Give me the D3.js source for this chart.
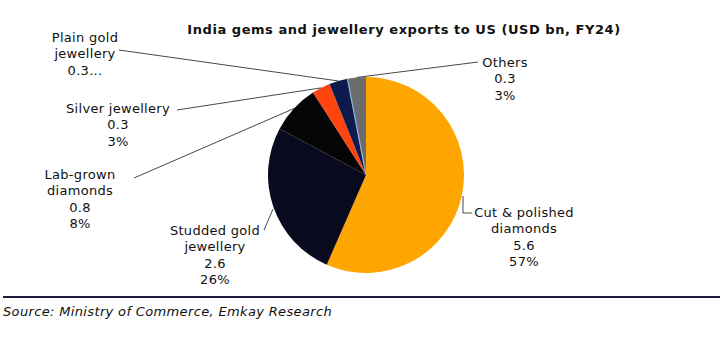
<!DOCTYPE html>
<html><head><meta charset="utf-8">
<script src="https://cdn.jsdelivr.net/npm/d3@7"></script>
<style>body{margin:0;background:#fff}svg{display:block}text{font-family:"DejaVu Sans",Verdana,sans-serif;fill:#111}</style>
</head><body>
<script>
const categories = ["Cut & polished diamonds","Studded gold jewellery","Lab-grown diamonds","Silver jewellery","Plain gold jewellery","Others"];
const values = [5.6, 2.6, 0.8, 0.3, 0.3, 0.3];
const valueLabels = ["5.6","2.6","0.8","0.3","0.3...","0.3"];
const pctLabels = ["57%","26%","8%","3%","","3%"];
const labelLines = [["Cut & polished","diamonds"],["Studded gold","jewellery"],["Lab-grown","diamonds"],["Silver jewellery"],["Plain gold","jewellery"],["Others"]];
const colors = ["#FFA500","#0a0a1f","#050505","#FF4410","#0c1a4c","#6c6c6c"];
const title = "India gems and jewellery exports to US (USD bn, FY24)";
const source = "Source: Ministry of Commerce, Emkay Research";

const W = 721, H = 358;
const svg = d3.select("body").append("svg").attr("width", W).attr("height", H);
const cx = 366, cy = 175, R = 98;

svg.append("text").attr("x", 404).attr("y", 34).attr("text-anchor","middle")
  .style("font-weight","bold").style("font-size","13px").style("letter-spacing","0.55px").text(title);

const pie = d3.pie().sort(null).value(d => d)(values);
const arc = d3.arc().innerRadius(0).outerRadius(R);
const g = svg.append("g").attr("transform", `translate(${cx},${cy})`);
g.selectAll("path").data(pie).join("path").attr("d", arc).attr("fill", (d,i) => colors[i]);
const a0 = pie[5].startAngle;
g.append("line").attr("x1",0).attr("y1",0).attr("x2", R*Math.sin(a0)).attr("y2", -R*Math.cos(a0))
  .attr("stroke","#8fb6dc").attr("stroke-width",1.2);

const layout = [
  {x:524, y:212},
  {x:215, y:230},
  {x:80, y:174},
  {x:118, y:108, lx:[[177,110]]},
  {x:85, y:37, lx:[[119,50]]},
  {x:505, y:62, lx:[[478,62]]}
];
const lh = 16.5;
pie.forEach((d,i) => {
  const L = layout[i];
  const mid = (d.startAngle + d.endAngle)/2;
  const px = cx + R*Math.sin(mid), py = cy - R*Math.cos(mid);
  let pts;
  if (i === 0) pts = [[463,196],[463,213],[472,213]];
  else if (i === 1) pts = [[273,209],[264,230]];
  else if (i === 2) pts = [[px,py],[134,178]];
  else pts = [[px,py]].concat(L.lx);
  svg.append("path").attr("d", d3.line()(pts)).attr("fill","none").attr("stroke","#333").attr("stroke-width",0.9);
  const lines = labelLines[i].concat([valueLabels[i]]).concat(pctLabels[i] ? [pctLabels[i]] : []);
  const t = svg.append("text").attr("text-anchor","middle").style("font-size","13px").style("letter-spacing","0.3px");
  lines.forEach((s,k) => t.append("tspan").attr("x", L.x).attr("y", L.y + k*lh).attr("dy","0.35em").text(s));
});

svg.append("line").attr("x1",3).attr("x2",720).attr("y1",297).attr("y2",297).attr("stroke","#1a1a3c").attr("stroke-width",2.2);
svg.append("text").attr("x",3).attr("y",316).style("font-size","13px").style("font-style","italic").style("letter-spacing","0.35px").text(source);
</script>
</body></html>
